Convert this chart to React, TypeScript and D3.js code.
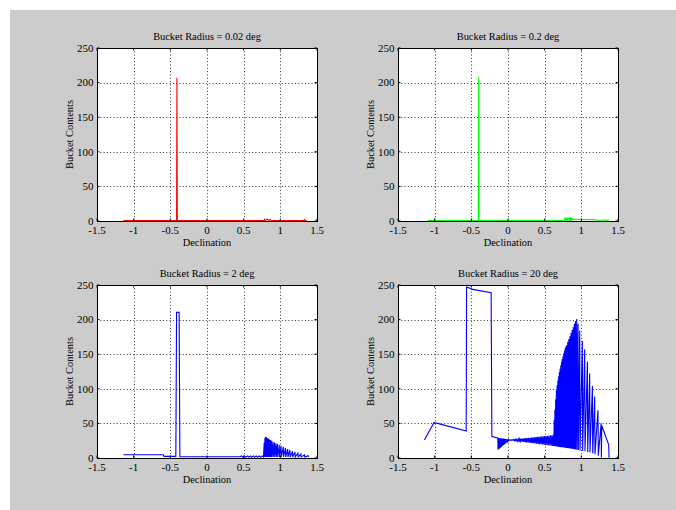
import React from "react";
import * as d3 from "d3";

type Pt = [number, number];

const xTicks = [-1.5, -1, -0.5, 0, 0.5, 1, 1.5];
const yTicks = [0, 50, 100, 150, 200, 250];
const panelTitles = [
  "Bucket Radius = 0.02 deg",
  "Bucket Radius = 0.2 deg",
  "Bucket Radius = 2 deg",
  "Bucket Radius = 20 deg",
];
const panelColors = ["#ff0000", "#00ff00", "#0000ff", "#0000ff"];
const xLabel = "Declination";
const yLabel = "Bucket Contents";

const radius002: Pt[] = [
  [-1.14, 0.8], [-0.415, 0.8], [-0.41, 207], [-0.405, 0.8], [0.78, 0.8], [0.785, 2.5],
  [0.8, 1], [0.82, 2.8], [0.84, 1], [0.86, 2.2], [0.87, 0.8], [1.32, 0.8], [1.33, 2],
  [1.34, 0.8], [1.36, 0.8],
];

const radius02: Pt[] = [
  [-1.1, 0.8], [-0.405, 0.8], [-0.4, 208], [-0.395, 0.8], [0.77, 0.8], [0.775, 4.5],
  [0.78, 1], [0.79, 4.8], [0.795, 1], [0.805, 4.6], [0.81, 1], [0.82, 4.4], [0.825, 1.2],
  [0.835, 4.2], [0.84, 1.2], [0.85, 4], [0.855, 1.5], [0.865, 3.8], [0.87, 1.5], [0.88, 3.5],
  [0.885, 2], [0.9, 2.3], [1.0, 2.2], [1.1, 2], [1.2, 1.8], [1.21, 1], [1.28, 1], [1.3, 1.8],
  [1.33, 1.2], [1.38, 1],
];

const radius2: Pt[] = [
  [-1.14, 4.8], [-0.595, 4.8], [-0.585, 2.4], [-0.425, 2.4], [-0.415, 210.5], [-0.38, 210.5],
  [-0.37, 1.8], [0.45, 1.8], [0.47, 3], [0.49, 1.2], [0.51, 3], [0.53, 1.2], [0.55, 3],
  [0.57, 1.2], [0.59, 3], [0.61, 1.2], [0.63, 3], [0.65, 1.2], [0.67, 3], [0.69, 1.2],
  [0.71, 3], [0.73, 1.2], [0.75, 3], [0.77, 1.5],
  [0.78, 22], [0.784, 1.5], [0.79, 29], [0.794, 1.5], [0.8, 31], [0.804, 1.5], [0.81, 30],
  [0.814, 1.5], [0.82, 29], [0.824, 1.5], [0.835, 28], [0.839, 1.5], [0.85, 27], [0.854, 1.5],
  [0.865, 26], [0.869, 1.5], [0.88, 25], [0.884, 1.5], [0.9, 23.5], [0.904, 1.5], [0.92, 22.5],
  [0.924, 1.5], [0.94, 21.3], [0.944, 1.5], [0.96, 20.2], [0.964, 1.5], [0.985, 19],
  [0.989, 1.5], [1.01, 17.6], [1.014, 1.5], [1.04, 16.2], [1.044, 1.5], [1.07, 14.6],
  [1.074, 1.5], [1.1, 13], [1.104, 1.5], [1.13, 11.6], [1.134, 1.5], [1.165, 10], [1.169, 1.5],
  [1.2, 8.6], [1.204, 1.5], [1.24, 7], [1.244, 1.5], [1.28, 5.6], [1.284, 1.5], [1.33, 4.4],
  [1.334, 1.5], [1.38, 3.4], [1.384, 1.5],
];

const radius20: Pt[] = [
  [-1.14, 26], [-1.01, 51], [-0.96, 50], [-0.57, 39], [-0.565, 247], [-0.51, 245], [-0.5, 244],
  [-0.23, 239], [-0.22, 31], [-0.14, 29],
  [-0.135, 12], [-0.125, 28.8], [-0.12, 13], [-0.11, 28.6], [-0.105, 14.5], [-0.095, 28.4],
  [-0.09, 16], [-0.08, 28.2], [-0.075, 17.5], [-0.065, 28], [-0.06, 19], [-0.05, 27.8],
  [-0.045, 20], [-0.035, 27.5], [-0.03, 21.5], [-0.02, 27.3], [-0.015, 22.5], [-0.005, 27],
  [0.0, 24], [0.01, 26.6], [0.015, 25.2], [0.025, 26.2], [0.03, 25.8],
  [0.04, 26.2], [0.05, 25.6], [0.06, 26.5], [0.07, 25.3], [0.08, 26.7], [0.09, 25.0],
  [0.1, 27.0], [0.11, 24.7], [0.12, 27.2], [0.13, 24.4], [0.14, 27.4], [0.15, 24.1],
  [0.16, 27.7], [0.17, 23.9], [0.18, 27.9], [0.19, 23.6], [0.2, 28.1], [0.21, 23.3],
  [0.22, 28.4], [0.23, 23.0], [0.24, 28.6], [0.25, 22.7], [0.26, 28.9], [0.27, 22.4],
  [0.28, 29.1], [0.29, 22.1], [0.3, 29.3], [0.31, 21.8], [0.32, 29.6], [0.33, 21.5],
  [0.34, 29.8], [0.35, 21.3], [0.36, 30.0], [0.37, 21.0], [0.38, 30.3], [0.39, 20.7],
  [0.4, 30.5], [0.41, 20.4], [0.42, 30.8], [0.43, 20.1], [0.44, 31.0], [0.45, 19.8],
  [0.46, 31.2], [0.47, 19.5], [0.48, 31.5], [0.49, 19.2], [0.5, 31.7], [0.51, 18.9],
  [0.52, 31.9], [0.53, 18.6], [0.54, 32.2], [0.55, 18.4], [0.56, 32.4], [0.57, 18.1],
  [0.58, 32.7], [0.59, 17.8], [0.6, 32.9], [0.61, 17.5],
  [0.62, 34], [0.624, 17.3], [0.63, 55], [0.634, 17.2], [0.64, 70], [0.644, 17.0],
  [0.65, 85], [0.654, 16.8], [0.66, 98], [0.664, 16.6], [0.67, 105], [0.674, 16.5],
  [0.68, 112], [0.684, 16.3], [0.69, 118], [0.694, 16.2], [0.7, 124], [0.704, 16.0],
  [0.71, 129], [0.714, 15.9], [0.72, 134], [0.724, 15.7], [0.73, 139], [0.734, 15.6],
  [0.74, 143], [0.744, 15.4], [0.75, 147], [0.754, 15.3], [0.76, 151], [0.764, 15.1],
  [0.77, 155], [0.774, 15.0], [0.78, 159], [0.784, 14.8], [0.79, 161], [0.794, 14.6],
  [0.8, 163], [0.804, 14.5], [0.815, 168], [0.819, 14.2], [0.83, 172], [0.834, 14.0],
  [0.845, 176], [0.849, 13.7], [0.86, 181], [0.864, 13.5], [0.875, 185], [0.879, 13.2],
  [0.89, 189], [0.894, 13.0], [0.905, 194], [0.909, 12.6], [0.92, 198], [0.924, 12.3],
  [0.937, 201], [0.941, 12.0],
  [0.955, 194], [0.959, 11.6], [0.978, 184], [0.982, 11.0], [1.014, 169], [1.018, 10.3],
  [1.046, 157], [1.05, 9.6], [1.083, 139], [1.087, 8.8], [1.114, 122], [1.118, 8.0],
  [1.151, 104], [1.155, 7.0], [1.182, 89], [1.186, 5.5], [1.227, 69], [1.231, 3.5],
  [1.27, 50], [1.274, 0.3], [1.278, 47], [1.373, 19], [1.378, 0.3],
];

const seriesList = [radius002, radius02, radius2, radius20];

const panelLefts = [97, 398, 97, 398];
const panelTops = [48, 48, 285, 285];
const PW = 220;
const PH = 173;
const FONT = "'Liberation Serif', 'Times New Roman', serif";

function Panel({ idx }: { idx: number }) {
  const L = panelLefts[idx];
  const T = panelTops[idx];
  const x = d3.scaleLinear().domain([-1.5, 1.5]).range([L, L + PW]);
  const y = d3.scaleLinear().domain([0, 250]).range([T + PH, T]);
  const line = d3
    .line<Pt>()
    .x((d) => x(d[0]))
    .y((d) => y(d[1]));
  const clipId = `clip${idx}`;
  const tl = 2.5;
  return (
    <g>
      <defs>
        <clipPath id={clipId}>
          <rect x={L} y={T} width={PW} height={PH} />
        </clipPath>
      </defs>
      <rect x={L} y={T} width={PW} height={PH} fill="#ffffff" />
      {xTicks.slice(1, -1).map((t) => (
        <line
          key={"gx" + t}
          x1={Math.round(x(t)) + 0.5}
          x2={Math.round(x(t)) + 0.5}
          y1={T}
          y2={T + PH}
          stroke="#000"
          strokeWidth={0.8}
          strokeDasharray="1 2.3"
        />
      ))}
      {yTicks.slice(1, -1).map((t) => (
        <line
          key={"gy" + t}
          x1={L}
          x2={L + PW}
          y1={Math.round(y(t)) + 0.5}
          y2={Math.round(y(t)) + 0.5}
          stroke="#000"
          strokeWidth={0.8}
          strokeDasharray="1 2.3"
        />
      ))}
      <path
        d={line(seriesList[idx]) || ""}
        fill="none"
        stroke={panelColors[idx]}
        strokeWidth={1.1}
        strokeLinejoin="miter"
        clipPath={`url(#${clipId})`}
      />
      {xTicks.map((t) => (
        <g key={"tx" + t}>
          <line x1={x(t)} x2={x(t)} y1={T + PH} y2={T + PH - tl} stroke="#000" strokeWidth={1} />
          <line x1={x(t)} x2={x(t)} y1={T} y2={T + tl} stroke="#000" strokeWidth={1} />
          <text
            x={x(t)}
            y={T + PH + 13}
            textAnchor="middle"
            fontFamily={FONT}
            fontSize={11}
            fill="#000"
          >
            {String(t)}
          </text>
        </g>
      ))}
      {yTicks.map((t) => (
        <g key={"ty" + t}>
          <line x1={L} x2={L + tl} y1={y(t)} y2={y(t)} stroke="#000" strokeWidth={1} />
          <line x1={L + PW} x2={L + PW - tl} y1={y(t)} y2={y(t)} stroke="#000" strokeWidth={1} />
          <text
            x={L - 3.5}
            y={y(t) + 3.8}
            textAnchor="end"
            fontFamily={FONT}
            fontSize={11}
            fill="#000"
          >
            {String(t)}
          </text>
        </g>
      ))}
      <rect
        x={L + 0.5}
        y={T + 0.5}
        width={PW}
        height={PH}
        fill="none"
        stroke="#000"
        strokeWidth={1}
      />
      <text
        x={L + PW / 2}
        y={T - 8}
        textAnchor="middle"
        fontFamily={FONT}
        fontSize={10.4}
        fill="#000"
      >
        {panelTitles[idx]}
      </text>
      <text
        x={L + PW / 2}
        y={T + PH + 25}
        textAnchor="middle"
        fontFamily={FONT}
        fontSize={10.4}
        fill="#000"
      >
        {xLabel}
      </text>
      <text
        transform={`translate(${L - 24},${T + PH / 2}) rotate(-90)`}
        textAnchor="middle"
        fontFamily={FONT}
        fontSize={10.4}
        fill="#000"
      >
        {yLabel}
      </text>
    </g>
  );
}

export default function App() {
  return (
    <svg
      width={676}
      height={510}
      style={{ position: "absolute", left: 0, top: 0, background: "#ffffff" }}
    >
      <rect x={10} y={10} width={666} height={500} fill="#cccccc" />
      {[0, 1, 2, 3].map((i) => (
        <Panel key={i} idx={i} />
      ))}
    </svg>
  );
}
